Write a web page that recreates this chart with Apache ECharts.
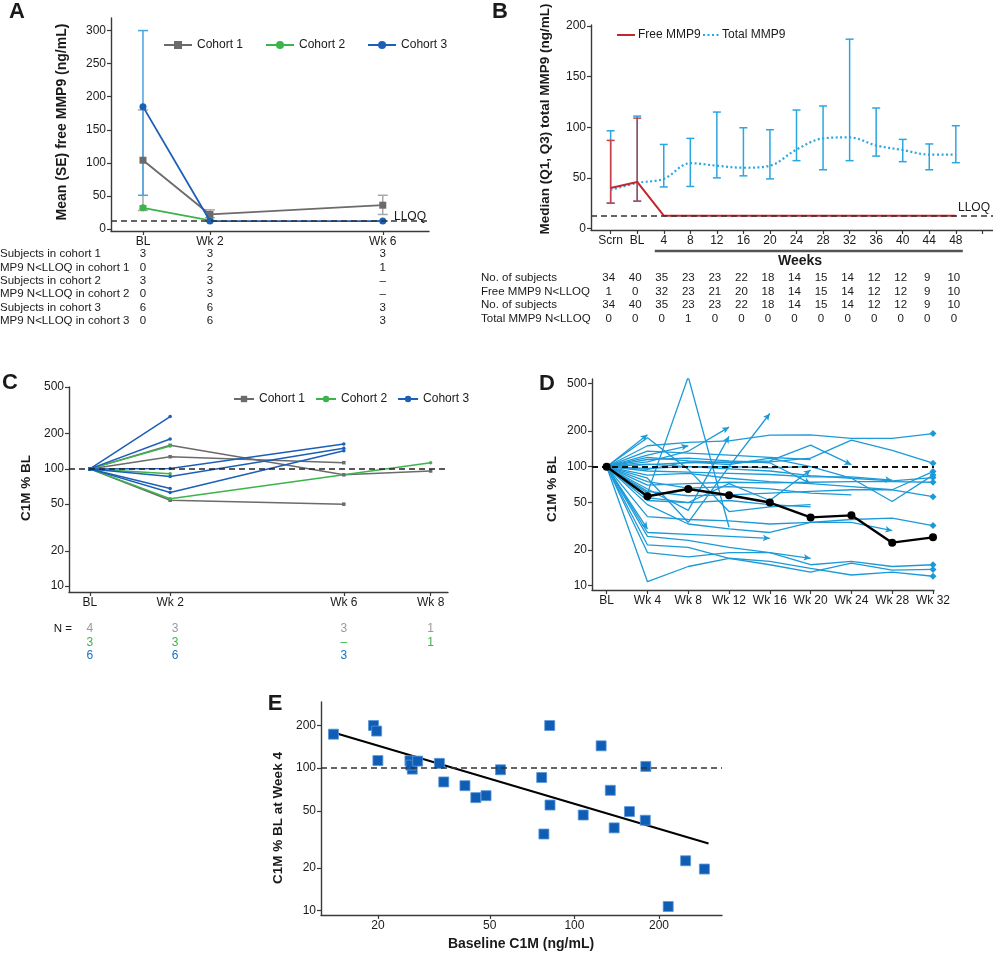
<!DOCTYPE html>
<html><head><meta charset="utf-8">
<script src="https://cdn.jsdelivr.net/npm/echarts@6/dist/echarts.min.js"></script>
<style>html,body{margin:0;padding:0;background:#fff}#c{width:993px;height:953px}</style>
</head><body><div id="c"></div>
<script>
// ================= DATA =================
// Panel A
const aTimeLabels = ['BL', 'Wk 2', 'Wk 6'];
const aWeeks = [0.45, 2, 6];
const aYTicks = [0, 50, 100, 150, 200, 250, 300];
const aCohort1 = [104, 22, 36];
const aCohort1Lo = [28, 17, 22];
const aCohort1Hi = [180, 29, 51];
const aCohort2 = [32, 13, null];
const aCohort2Lo = [30, 12, null];
const aCohort2Hi = [35, 14, null];
const aCohort3 = [185, 12, 12];
const aCohort3Lo = [51, 12, 12];
const aCohort3Hi = [300, 12, 12];
const aLLOQ = 12.6;
const aTableLabels = ['Subjects in cohort 1', 'MP9 N<LLOQ in cohort 1', 'Subjects in cohort 2',
  'MP9 N<LLOQ in cohort 2', 'Subjects in cohort 3', 'MP9 N<LLOQ in cohort 3'];
const aTableRows = [['3', '3', '3'], ['0', '2', '1'], ['3', '3', '–'], ['0', '3', '–'], ['6', '6', '3'], ['0', '6', '3']];

// Panel B
const bLabels = ['Scrn', 'BL', '4', '8', '12', '16', '20', '24', '28', '32', '36', '40', '44', '48'];
const bYTicks = [0, 50, 100, 150, 200];
const bFree = [40, 46, 12.6, 12.6, 12.6, 12.6, 12.6, 12.6, 12.6, 12.6, 12.6, 12.6, 12.6, 12.6];
const bFreeLo = [25, 27, null, null, null, null, null, null, null, null, null, null, null, null];
const bFreeHi = [87, 109, null, null, null, null, null, null, null, null, null, null, null, null];
const bTotal = [38, 45, 49, 64.5, 62, 60, 62, 78, 89, 90, 82, 77.5, 73, 73];
const bTotalLo = [25, 27, 41, 41.5, 50, 52, 49, 67, 58, 67, 71.5, 66, 58, 65];
const bTotalHi = [96.5, 111, 83, 89, 115, 99.5, 97.5, 117, 121, 187, 119, 88, 83.5, 101.5];
const bLLOQ = 12.6;
const bTableLabels = ['No. of subjects', 'Free MMP9 N<LLOQ', 'No. of subjects', 'Total MMP9 N<LLOQ'];
const bTableRows = [
  ['34', '40', '35', '23', '23', '22', '18', '14', '15', '14', '12', '12', '9', '10'],
  ['1', '0', '32', '23', '21', '20', '18', '14', '15', '14', '12', '12', '9', '10'],
  ['34', '40', '35', '23', '23', '22', '18', '14', '15', '14', '12', '12', '9', '10'],
  ['0', '0', '0', '1', '0', '0', '0', '0', '0', '0', '0', '0', '0', '0']];

// Panel C
const cTimeLabels = ['BL', 'Wk 2', 'Wk 6', 'Wk 8'];
const cWeeks = [0.15, 2, 6, 8];
const logTicks = [10, 20, 50, 100, 200, 500];
const cCohort1 = [[100, 159, 89, 96], [100, 127, 113, null], [100, 54, 50, null], [100, null, null, null]];
const cCohort2 = [[100, 157, null, null], [100, 91, null, null], [100, 55.7, null, 113]];
const cCohort3 = [[100, 280, null, null], [100, 180, null, null], [100, 101, 163, null],
  [100, 86, 150, null], [100, 68, null, null], [100, 63, 143, null]];
const cTableRows = [['4', '3', '3', '1'], ['3', '3', '–', '1'], ['6', '6', '3', '']];

// Panel D
const dWeeks = [0, 4, 8, 12, 16, 20, 24, 28, 32];
const dTickLabels = ['BL', 'Wk 4', 'Wk 8', 'Wk 12', 'Wk 16', 'Wk 20', 'Wk 24', 'Wk 28', 'Wk 32'];
const dMedian = [100, 56.5, 65, 57.5, 50, 37.5, 39, 23, 25.5];
const dCompleted = [
  [100, 150, 160, 165, 184, 185, 173, 173, 190],
  [100, 120, 112, 108, 110, 118, 167, 137, 107],
  [100, 95, 110, 104, 118, 100, 80, 51, 85],
  [100, 85, 88, 80, 75, 72, 68, 64, 91],
  [100, 105, 100, 96, 92, 84, 80, 76, 81],
  [100, 70, 72, 74, 73, 74, 75, 75, 74],
  [100, 62, 57, 58, 60, 62, 64, 64, 56],
  [100, 48, 33, 30, 28, 34, 36, 37, 32],
  [100, 19, 17.5, 19, 19, 15, 16, 14.5, 15],
  [100, 22, 21, 17, 15, 13, 15.5, 13.5, 13.7],
  [100, 10.8, 14.5, 17, 16, 14, 12.3, 13, 12]];
const dDiscontinued = [
  [100, 186],
  [100, 30],
  [100, 125, 150],
  [100, 110, 135, 215],
  [100, 65, 43, 180],
  [100, 80, 34, 100, 280],
  [100, 52, 50, 72, 52, 94],
  [100, 115, 118, 112, 108, 72],
  [100, 26, 24, 21, 19, 17],
  [100, 92, 90, 88, 86, 82, 82, 77],
  [100, 38, 36, 35, 33, 34, 34, 29],
  [100, 28, 27, 26, 25],
  [100, 104, 108, 110, 112, 152, 104]];
const dOther = [
  [100, 60, 570, 31],
  [100, 175, 95, 42, 46, 48],
  [100, 97, 100, 100, 98, 100],
  [100, 75, 66, 68, 65, 60, 58],
  [100, 55, 50, 52, 48, 46],
  [100, 135, 130, 125, 120, 115]];

// Panel E
const eBaseline = [13.9, 19.3, 19.8, 20, 26, 26.5, 26.2, 27.7, 33.1, 34.3, 40.8, 44.6, 48.5, 54.6, 81.7, 76.5,
  81.9, 77.9, 107.5, 124.5, 134.2, 138.5, 157, 179.5, 178.7, 215.6, 248.7, 290];
const eWeek4 = [173, 199, 182, 113, 112.6, 98.4, 105, 112, 108, 80, 75.3, 62.1, 64.1, 97.4, 199, 86,
  55.1, 34.5, 46.9, 143.4, 69.9, 38.1, 49.6, 102.8, 43.1, 10.7, 22.4, 19.6];
const eFit = [[13.9, 178], [300, 29.6]];
const eXTicks = [20, 50, 100, 200];
const eYTicks = [10, 20, 50, 100, 200];

// ================= STYLE / HELPERS =================
const FONT = '"Liberation Sans", Arial, Helvetica, sans-serif';
const AX = '#3a3a3a';
const GRAY = '#6b6b6b', GRAY_L = '#a8a8a8';
const GREEN = '#3cb44b';
const BLUE = '#1b5fb8', BLUE_L = '#4aa3df';
const RED = '#c1272d', CYAN = '#2aa6e0';
const DLINE = '#1c9ad8';

function nearest(arr, v) { let bi = 0; arr.forEach((a, i) => { if (Math.abs(a - v) < Math.abs(arr[bi] - v)) bi = i; }); return bi; }

function axis(type, grid, min, max, ticks, fmt, labelTicks) {
  const a = {
    type, gridIndex: grid, min, max,
    axisLine: {show: true, onZero: false, lineStyle: {color: AX, width: 1.4}},
    axisTick: {show: true, length: 4, customValues: ticks, lineStyle: {color: AX, width: 1.2}},
    axisLabel: {customValues: labelTicks || ticks, color: '#1a1a1a', fontSize: 12, fontFamily: FONT, margin: 5, formatter: fmt},
    splitLine: {show: false}, minorTick: {show: false}, minorSplitLine: {show: false}
  };
  if (type === 'log') a.logBase = 10;
  return a;
}
const numFmt = v => String(Math.round(v));

function errBar(color, cap, lw) {
  return function (params, api) {
    const x = api.value(0), lo = api.value(1), hi = api.value(2);
    const a = api.coord([x, lo]), b = api.coord([x, hi]);
    const st = {stroke: color, lineWidth: lw};
    return {type: 'group', children: [
      {type: 'line', shape: {x1: a[0], y1: a[1], x2: b[0], y2: b[1]}, style: st},
      {type: 'line', shape: {x1: a[0] - cap, y1: a[1], x2: a[0] + cap, y2: a[1]}, style: st},
      {type: 'line', shape: {x1: b[0] - cap, y1: b[1], x2: b[0] + cap, y2: b[1]}, style: st}]};
  };
}
function errData(xs, lo, hi) {
  const out = [];
  xs.forEach((x, i) => { if (lo[i] != null && hi[i] != null) out.push([x, lo[i], hi[i]]); });
  return out;
}
function pairs(xs, ys) { return ys.map((y, i) => [xs[i], y]); }
function refLine(y, color, width) {
  return {silent: true, symbol: 'none', label: {show: false},
    lineStyle: {color: color || '#333', type: [6, 4], width: width || 1.5}, data: [{yAxis: y}]};
}

const bIdx = bLabels.map((_, i) => i);
const bTickIdx = bLabels.map((_, i) => i).concat([bLabels.length]);

// ================= OPTION =================
const series = [];
// ---- A
series.push({type: 'line', name: 'A-LLOQ', xAxisIndex: 0, yAxisIndex: 0, data: [], markLine: refLine(aLLOQ, '#333', 1.5)});
series.push({type: 'custom', xAxisIndex: 0, yAxisIndex: 0, renderItem: errBar(GRAY_L, 5, 1.5), data: errData(aWeeks, aCohort1Lo, aCohort1Hi), z: 1});
series.push({type: 'custom', xAxisIndex: 0, yAxisIndex: 0, renderItem: errBar('#8fd18f', 4, 1.5), data: errData(aWeeks, aCohort2Lo, aCohort2Hi), z: 1});
series.push({type: 'custom', xAxisIndex: 0, yAxisIndex: 0, renderItem: errBar(BLUE_L, 5, 1.5), data: errData(aWeeks, aCohort3Lo, aCohort3Hi), z: 1});
series.push({type: 'line', name: 'Cohort 1', xAxisIndex: 0, yAxisIndex: 0, data: pairs(aWeeks, aCohort1), symbol: 'rect', symbolSize: 7,
  color: GRAY, lineStyle: {width: 1.8, color: GRAY}, itemStyle: {color: GRAY}, z: 3});
series.push({type: 'line', name: 'Cohort 2', xAxisIndex: 0, yAxisIndex: 0, data: pairs(aWeeks, aCohort2), symbol: 'circle', symbolSize: 7,
  color: GREEN, lineStyle: {width: 1.8, color: GREEN}, itemStyle: {color: GREEN}, z: 3});
series.push({type: 'line', name: 'Cohort 3', xAxisIndex: 0, yAxisIndex: 0, data: pairs(aWeeks, aCohort3), symbol: 'circle', symbolSize: 7,
  color: BLUE, lineStyle: {width: 1.8, color: BLUE}, itemStyle: {color: BLUE}, z: 4});

// ---- B
series.push({type: 'line', name: 'B-LLOQ', xAxisIndex: 1, yAxisIndex: 1, data: [], markLine: refLine(bLLOQ, '#333', 1.5)});
series.push({type: 'custom', xAxisIndex: 1, yAxisIndex: 1, renderItem: errBar(CYAN, 4, 1.5), data: errData(bIdx, bTotalLo, bTotalHi), z: 1});
series.push({type: 'custom', xAxisIndex: 1, yAxisIndex: 1, renderItem: errBar('#c9414a', 4, 1.5), data: errData(bIdx, bFreeLo, bFreeHi), z: 2});
series.push({type: 'line', name: 'Total MMP9', xAxisIndex: 1, yAxisIndex: 1, data: pairs(bIdx, bTotal), symbol: 'none', smooth: 0.35,
  color: CYAN, lineStyle: {width: 2.2, color: CYAN, type: [2, 2.5]}, z: 3});
series.push({type: 'line', name: 'Free MMP9', xAxisIndex: 1, yAxisIndex: 1, data: pairs(bIdx, bFree), symbol: 'none',
  color: RED, lineStyle: {width: 2, color: RED}, z: 4});

// ---- C
series.push({type: 'line', name: 'C-ref', xAxisIndex: 2, yAxisIndex: 2, data: [], markLine: refLine(100, '#222', 1.6)});
function cLines(arr, color, sym, tag) {
  arr.forEach((p, k) => series.push({type: 'line', name: tag + k, xAxisIndex: 2, yAxisIndex: 2, data: pairs(cWeeks, p),
    connectNulls: true, symbol: sym, symbolSize: 3.5, showSymbol: true, color: color,
    lineStyle: {width: 1.5, color: color}, itemStyle: {color: color}, z: 3}));
}
cLines(cCohort1, GRAY, 'rect', 'c1-');
cLines(cCohort2, GREEN, 'circle', 'c2-');
cLines(cCohort3, BLUE, 'circle', 'c3-');

// ---- D
series.push({type: 'line', name: 'D-ref', xAxisIndex: 3, yAxisIndex: 3, data: [], markLine: refLine(100, '#111', 2), z: 6});
function dLines(arr, tag) {
  arr.forEach((p, k) => series.push({type: 'line', name: tag + k, xAxisIndex: 3, yAxisIndex: 3, data: pairs(dWeeks, p),
    symbol: 'none', color: DLINE, lineStyle: {width: 1.3, color: DLINE}, z: 3}));
}
dLines(dCompleted, 'dc-');
dLines(dDiscontinued, 'dd-');
dLines(dOther, 'do-');
series.push({type: 'scatter', id: 'dDiamonds', xAxisIndex: 3, yAxisIndex: 3, symbol: 'diamond', symbolSize: 7,
  itemStyle: {color: DLINE, opacity: 1}, data: dCompleted.map(p => [dWeeks[p.length - 1], p[p.length - 1]]), z: 4});
series.push({type: 'scatter', id: 'dArrows', xAxisIndex: 3, yAxisIndex: 3, symbol: 'arrow', symbolSize: [5, 7],
  itemStyle: {color: DLINE, opacity: 1}, data: dDiscontinued.map(p => [dWeeks[p.length - 1], p[p.length - 1]]), z: 4});
series.push({type: 'line', name: 'Median', xAxisIndex: 3, yAxisIndex: 3, data: pairs(dWeeks, dMedian), symbol: 'circle', symbolSize: 8,
  color: '#000', lineStyle: {width: 2.4, color: '#000'}, itemStyle: {color: '#000'}, z: 7});

// ---- E
series.push({type: 'line', name: 'E-ref', xAxisIndex: 4, yAxisIndex: 4, data: [], markLine: refLine(100, '#333', 1.6)});
series.push({type: 'line', name: 'E-fit', xAxisIndex: 4, yAxisIndex: 4, data: eFit, symbol: 'none', color: '#000',
  lineStyle: {width: 2, color: '#000'}, z: 3});
series.push({type: 'scatter', name: 'E-pts', xAxisIndex: 4, yAxisIndex: 4, data: pairs(eBaseline, eWeek4), symbol: 'rect', symbolSize: 10,
  itemStyle: {color: '#0f5db5', borderColor: '#5b97da', borderWidth: 0.8, opacity: 1}, z: 4});

const legendText = {fontSize: 12, fontFamily: FONT, color: '#1a1a1a'};
const option = {
  animation: false,
  backgroundColor: '#fff',
  grid: [
    {left: 111, top: 18, width: 318, height: 213},
    {left: 591, top: 25, width: 402, height: 205},
    {left: 69, top: 387, width: 379, height: 205},
    {left: 592, top: 379, width: 342, height: 211},
    {left: 321, top: 702, width: 401, height: 213}],
  xAxis: [
    axis('value', 0, -0.29, 7.07, aWeeks, v => aTimeLabels[nearest(aWeeks, v)]),
    axis('value', 1, -0.74, 14.4, bTickIdx, v => bLabels[Math.round(v)] || '', bIdx),
    axis('value', 2, -0.33, 8.4, cWeeks, v => cTimeLabels[nearest(cWeeks, v)]),
    axis('value', 3, -1.44, 32.1, dWeeks, v => dTickLabels[nearest(dWeeks, v)]),
    axis('log', 4, 12.55, 335, eXTicks, numFmt)],
  yAxis: [
    axis('value', 0, -3, 319, aYTicks, numFmt),
    axis('value', 1, -1.5, 201, bYTicks, numFmt),
    axis('log', 2, 8.9, 500, logTicks, numFmt),
    axis('log', 3, 9.2, 546, logTicks, numFmt),
    axis('log', 4, 9.33, 291, eYTicks, numFmt)],
  legend: [
    {data: ['Cohort 1', 'Cohort 2', 'Cohort 3'], left: 158, top: 34, itemWidth: 28, itemHeight: 10, itemGap: 22, textStyle: legendText, selectedMode: false},
    {data: ['Cohort 1', 'Cohort 2', 'Cohort 3'], left: 228, top: 388, itemWidth: 20, itemHeight: 8, itemGap: 10, textStyle: legendText, selectedMode: false}],
  series
};

const chart = echarts.init(document.getElementById('c'), null, {renderer: 'canvas'});
chart.setOption(option);

// ================= TEXT / ANNOTATIONS =================
const g = [];
function txt(text, x, y, opt) {
  opt = opt || {};
  g.push({type: 'text', x, y, rotation: opt.rot || 0, z: 100,
    style: {text, font: opt.font || ('12px ' + FONT), fill: opt.color || '#1a1a1a',
      align: opt.align || 'center', verticalAlign: 'middle', textAlign: opt.align || 'center', textVerticalAlign: 'middle'}});
}
function seg(x1, y1, x2, y2, color, lw, dash) {
  g.push({type: 'line', z: 100, shape: {x1, y1, x2, y2}, style: {stroke: color, lineWidth: lw, lineDash: dash || null}});
}
const BOLD14 = 'bold 14px ' + FONT;
const LETTER = 'bold 22px ' + FONT;
// panel letters
txt('A', 17, 12, {font: LETTER});
txt('B', 500, 12, {font: LETTER});
txt('C', 10, 383, {font: LETTER});
txt('D', 547, 384, {font: LETTER});
txt('E', 275, 704, {font: LETTER});
// axis titles
txt('Mean (SE) free MMP9 (ng/mL)', 62, 122, {font: BOLD14, rot: Math.PI / 2});
txt('Median (Q1, Q3) total MMP9 (ng/mL)', 545, 119, {font: 'bold 13.5px ' + FONT, rot: Math.PI / 2});
txt('C1M % BL', 26, 488, {font: 'bold 13.5px ' + FONT, rot: Math.PI / 2});
txt('C1M % BL', 552, 489, {font: 'bold 13.5px ' + FONT, rot: Math.PI / 2});
txt('C1M % BL at Week 4', 278, 818, {font: 'bold 13.5px ' + FONT, rot: Math.PI / 2});
txt('Baseline C1M (ng/mL)', 521, 944, {font: BOLD14});
// legend for B (line-only keys)
seg(617, 35, 635, 35, RED, 2);
txt('Free MMP9', 638, 35, {align: 'left'});
seg(703, 35, 720, 35, CYAN, 2.2, [2, 2.5]);
txt('Total MMP9', 722, 35, {align: 'left'});
// LLOQ labels
txt('LLOQ', 410, 217, {});
txt('LLOQ', 974, 208, {});
// Weeks bar
const bx1 = chart.convertToPixel({xAxisIndex: 1}, 2) - 9, bx2 = chart.convertToPixel({xAxisIndex: 1}, 13) + 7;
seg(bx1, 251, bx2, 251, '#555', 2.5);
txt('Weeks', 800, 261, {font: BOLD14});
// Table A
aTableLabels.forEach((lab, r) => {
  const y = 254 + r * 13.4;
  txt(lab, 0, y, {align: 'left', font: '11.5px ' + FONT});
  aTableRows[r].forEach((v, c) => txt(v, chart.convertToPixel({xAxisIndex: 0}, aWeeks[c]), y, {font: '11.5px ' + FONT}));
});
// Table B
bTableLabels.forEach((lab, r) => {
  const y = 278 + r * 13.5;
  txt(lab, 481, y, {align: 'left', font: '11.5px ' + FONT});
  bTableRows[r].forEach((v, c) => txt(v, chart.convertToPixel({xAxisIndex: 1}, c) - 2, y, {font: '11.5px ' + FONT}));
});
// Table C
const cRowColors = ['#9a9a9a', GREEN, '#1a6fc4'];
txt('N =', 72, 629, {align: 'right', font: '11.5px ' + FONT});
cTableRows.forEach((row, r) => {
  const y = 629 + r * 13.3;
  row.forEach((v, c) => { if (v) txt(v, chart.convertToPixel({xAxisIndex: 2}, cWeeks[c]) + (c === 1 ? 5 : 0), y, {font: '12px ' + FONT, color: cRowColors[r]}); });
});

// arrow orientation for discontinued D lines
const arrowData = dDiscontinued.map(p => {
  const n = p.length;
  const a = chart.convertToPixel({gridIndex: 3}, [dWeeks[n - 2], p[n - 2]]);
  const b = chart.convertToPixel({gridIndex: 3}, [dWeeks[n - 1], p[n - 1]]);
  const deg = Math.atan2(-(b[0] - a[0]), -(b[1] - a[1])) * 180 / Math.PI;
  return {value: [dWeeks[n - 1], p[n - 1]], symbolRotate: deg};
});

chart.setOption({graphic: g, series: [{id: 'dArrows', data: arrowData}]});
</script></body></html>
